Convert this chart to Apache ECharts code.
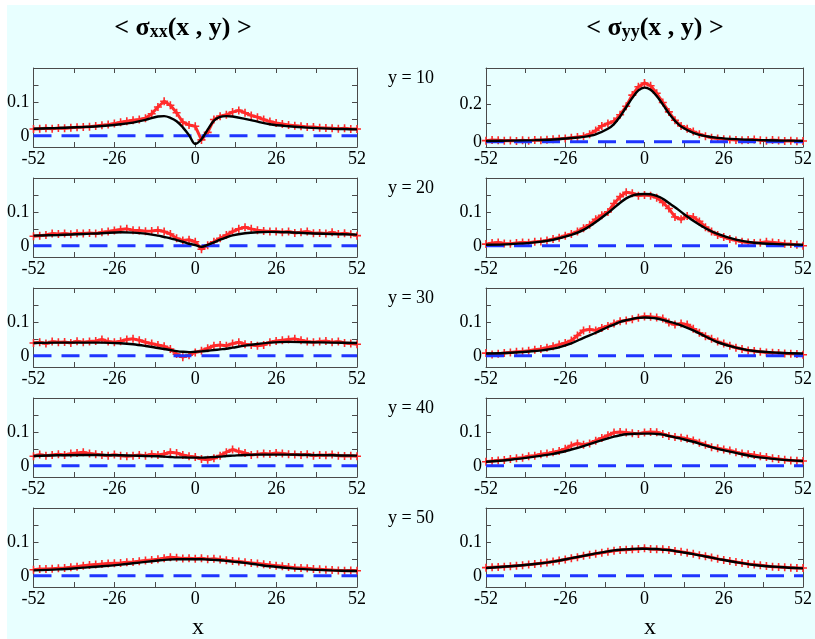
<!DOCTYPE html>
<html>
<head>
<meta charset="utf-8">
<script src="https://cdn.jsdelivr.net/npm/echarts@6/dist/echarts.min.js"></script>
<style>
html,body{margin:0;padding:0;background:#ffffff;}
#chart{width:815px;height:639px;}
</style>
</head>
<body>
<div id="chart"></div>
<script>
// ---------- data ----------
const xRed = [-52,-50,-48,-46,-44,-42,-40,-38,-36,-34,-32,-30,-28,-26,-24,-22,-20,-18,-16,-14,-12,-10,-8,-6,-4,-2,0,
  2,4,6,8,10,12,14,16,18,20,22,24,26,28,30,32,34,36,38,40,42,44,46,48,50,52];
const xFit = [-52,-44,-36,-30,-24,-20,-16,-12,-10,-8,-6,-4,-2,0,2,4,6,8,10,12,16,20,24,30,36,44,52];

const xTicks = [-52,-39,-26,-13,0,13,26,39,52];
const xLabels = [-52,-26,0,26,52];
const rowLabels = ['y = 10','y = 20','y = 30','y = 40','y = 50'];

// sigma_xx
const sxx10Red = [0.020,0.021,0.022,0.021,0.023,0.022,0.024,0.025,0.026,0.027,0.029,0.031,0.033,0.036,0.040,0.043,0.046,0.048,0.052,0.065,0.085,0.102,0.090,0.068,0.040,0.032,0.028,
  -0.012,0.010,0.048,0.058,0.062,0.070,0.075,0.068,0.060,0.055,0.048,0.042,0.038,0.035,0.032,0.030,0.028,0.026,0.026,0.024,0.023,0.022,0.021,0.022,0.020,0.020];
const sxx10Fit = [0.021,0.023,0.026,0.029,0.034,0.039,0.047,0.057,0.058,0.053,0.043,0.025,0.002,-0.024,-0.010,0.018,0.045,0.056,0.058,0.057,0.050,0.042,0.034,0.028,0.024,0.021,0.019];

const sxx20Red = [0.028,0.030,0.032,0.036,0.035,0.036,0.034,0.037,0.036,0.038,0.036,0.040,0.042,0.045,0.048,0.050,0.046,0.045,0.043,0.044,0.046,0.042,0.035,0.022,0.016,0.018,0.012,
  -0.010,0.002,0.012,0.022,0.032,0.042,0.050,0.055,0.050,0.046,0.044,0.042,0.042,0.040,0.042,0.038,0.040,0.042,0.037,0.038,0.036,0.040,0.035,0.037,0.034,0.030];
const sxx20Fit = [0.030,0.032,0.035,0.037,0.040,0.039,0.036,0.030,0.026,0.022,0.017,0.012,0.006,0.002,-0.003,0.003,0.010,0.018,0.025,0.031,0.037,0.040,0.041,0.040,0.037,0.035,0.033];

const sxx30Red = [0.038,0.040,0.036,0.042,0.040,0.041,0.038,0.043,0.040,0.042,0.044,0.048,0.042,0.040,0.043,0.048,0.050,0.046,0.040,0.036,0.032,0.028,0.020,0.005,-0.004,0.002,0.010,
  0.015,0.022,0.030,0.032,0.030,0.036,0.040,0.034,0.032,0.030,0.032,0.040,0.044,0.046,0.048,0.050,0.046,0.042,0.040,0.042,0.044,0.040,0.042,0.038,0.036,0.034];
const sxx30Fit = [0.038,0.039,0.039,0.039,0.037,0.034,0.029,0.023,0.020,0.017,0.014,0.012,0.011,0.012,0.013,0.015,0.017,0.019,0.021,0.024,0.030,0.035,0.039,0.041,0.040,0.039,0.038];

const sxx40Red = [0.028,0.033,0.030,0.032,0.034,0.032,0.036,0.038,0.040,0.036,0.034,0.032,0.030,0.033,0.030,0.028,0.030,0.032,0.030,0.034,0.032,0.035,0.040,0.038,0.032,0.028,0.026,
  0.020,0.018,0.022,0.030,0.040,0.048,0.042,0.038,0.032,0.034,0.036,0.035,0.038,0.036,0.034,0.033,0.032,0.034,0.030,0.032,0.031,0.033,0.030,0.029,0.030,0.028];
const sxx40Fit = [0.029,0.031,0.032,0.032,0.031,0.030,0.029,0.028,0.027,0.026,0.025,0.025,0.024,0.024,0.024,0.025,0.026,0.027,0.029,0.030,0.032,0.033,0.033,0.033,0.032,0.031,0.030];

const sxx50Red = [0.018,0.020,0.020,0.021,0.022,0.023,0.025,0.027,0.030,0.032,0.033,0.035,0.036,0.037,0.038,0.040,0.041,0.043,0.045,0.047,0.049,0.052,0.055,0.053,0.051,0.052,0.050,
  0.052,0.049,0.050,0.048,0.046,0.044,0.042,0.040,0.038,0.036,0.034,0.032,0.030,0.028,0.026,0.024,0.023,0.022,0.020,0.019,0.018,0.017,0.016,0.015,0.016,0.015];
const sxx50Fit = [0.016,0.019,0.024,0.028,0.033,0.037,0.041,0.045,0.047,0.048,0.049,0.049,0.049,0.049,0.049,0.048,0.047,0.046,0.044,0.042,0.038,0.033,0.028,0.023,0.019,0.016,0.014];

// sigma_yy
const syy10Red = [0.006,0.010,0.008,0.005,0.007,0.004,0.008,0.006,0.010,0.008,0.011,0.013,0.016,0.018,0.022,0.025,0.030,0.040,0.060,0.085,0.098,0.110,0.145,0.190,0.250,0.295,0.315,
  0.300,0.260,0.210,0.160,0.115,0.085,0.070,0.055,0.040,0.030,0.022,0.018,0.014,0.012,0.010,0.008,0.010,0.012,0.008,0.006,0.009,0.007,0.004,0.006,0.003,0.004];
const syy10Fit = [0.004,0.006,0.009,0.012,0.020,0.026,0.040,0.070,0.095,0.135,0.185,0.235,0.275,0.290,0.278,0.245,0.200,0.152,0.112,0.082,0.048,0.030,0.021,0.014,0.010,0.007,0.005];

const syy20Red = [0.005,0.008,0.010,0.007,0.006,0.008,0.010,0.009,0.012,0.013,0.016,0.020,0.024,0.030,0.035,0.042,0.052,0.062,0.078,0.090,0.100,0.125,0.145,0.158,0.155,0.148,0.150,
  0.148,0.142,0.128,0.110,0.085,0.078,0.088,0.085,0.072,0.055,0.042,0.032,0.026,0.020,0.016,0.012,0.010,0.008,0.009,0.012,0.010,0.008,0.006,0.005,0.003,0.000];
const syy20Fit = [0.003,0.005,0.010,0.018,0.032,0.047,0.070,0.097,0.112,0.127,0.140,0.148,0.152,0.153,0.152,0.147,0.139,0.126,0.114,0.100,0.074,0.052,0.035,0.018,0.009,0.005,0.003];

const syy30Red = [0.008,0.004,0.006,0.008,0.010,0.012,0.013,0.015,0.018,0.020,0.024,0.028,0.033,0.038,0.045,0.060,0.075,0.078,0.075,0.082,0.088,0.095,0.102,0.104,0.108,0.112,0.116,
  0.115,0.113,0.110,0.098,0.092,0.095,0.092,0.080,0.068,0.058,0.050,0.042,0.036,0.030,0.024,0.020,0.016,0.014,0.012,0.010,0.009,0.008,0.007,0.006,0.005,0.003];
const syy30Fit = [0.007,0.009,0.014,0.021,0.037,0.053,0.068,0.085,0.092,0.100,0.105,0.109,0.112,0.113,0.112,0.110,0.106,0.101,0.096,0.090,0.075,0.057,0.040,0.024,0.014,0.009,0.007];

const syy40Red = [0.012,0.014,0.016,0.017,0.020,0.022,0.024,0.028,0.030,0.034,0.036,0.040,0.044,0.050,0.060,0.066,0.062,0.066,0.074,0.082,0.090,0.098,0.100,0.098,0.096,0.094,0.098,
  0.100,0.099,0.094,0.088,0.085,0.083,0.080,0.075,0.068,0.062,0.055,0.052,0.048,0.045,0.040,0.036,0.034,0.032,0.028,0.026,0.022,0.020,0.018,0.016,0.015,0.014];
const syy40Fit = [0.012,0.018,0.027,0.035,0.048,0.058,0.070,0.081,0.086,0.090,0.093,0.094,0.095,0.095,0.095,0.094,0.092,0.088,0.084,0.080,0.071,0.060,0.050,0.038,0.027,0.019,0.014];

const syy50Red = [0.024,0.025,0.026,0.027,0.028,0.030,0.031,0.033,0.035,0.037,0.039,0.042,0.045,0.048,0.052,0.055,0.059,0.062,0.065,0.068,0.071,0.074,0.076,0.077,0.078,0.079,0.081,
  0.079,0.078,0.078,0.076,0.073,0.071,0.068,0.065,0.061,0.058,0.054,0.050,0.047,0.044,0.041,0.038,0.035,0.033,0.031,0.029,0.027,0.026,0.025,0.024,0.023,0.023];
const syy50Fit = [0.023,0.028,0.035,0.042,0.052,0.059,0.066,0.072,0.075,0.077,0.078,0.079,0.080,0.080,0.079,0.079,0.077,0.076,0.073,0.070,0.064,0.057,0.050,0.040,0.032,0.026,0.022];

const zeroX = [-52, 52];
const zeroY = [0, 0];

const yTicksSmall = [0, 0.05, 0.1, 0.15];
const yLabelsSmall = [0, 0.1];
const yTicksBig = [0, 0.1, 0.2, 0.3];
const yLabelsBig = [0, 0.2];

// ---------- layout ----------
const panels = [
  {col:0,row:0,red:sxx10Red,fit:sxx10Fit,big:false},
  {col:0,row:1,red:sxx20Red,fit:sxx20Fit,big:false},
  {col:0,row:2,red:sxx30Red,fit:sxx30Fit,big:false},
  {col:0,row:3,red:sxx40Red,fit:sxx40Fit,big:false},
  {col:0,row:4,red:sxx50Red,fit:sxx50Fit,big:false},
  {col:1,row:0,red:syy10Red,fit:syy10Fit,big:true},
  {col:1,row:1,red:syy20Red,fit:syy20Fit,big:false},
  {col:1,row:2,red:syy30Red,fit:syy30Fit,big:false},
  {col:1,row:3,red:syy40Red,fit:syy40Fit,big:false},
  {col:1,row:4,red:syy50Red,fit:syy50Fit,big:false}
];
const colLeft = [33.5, 486];
const panelW = 323.5;
const panelH = 79;
const rowTop0 = 68, rowStep = 110;

const FONT = '"Liberation Serif", "Times New Roman", serif';
const frameColor = '#4a4a4a';
const plusPath = 'path://M4,0H6V4H10V6H6V10H4V6H0V4H4Z';

const grids = [], xAxes = [], yAxes = [], series = [];
panels.forEach((p, i) => {
  grids.push({left: colLeft[p.col], top: rowTop0 + p.row*rowStep, width: panelW, height: panelH, containLabel: false});
  const axLine = {show: true, onZero: false, lineStyle: {color: frameColor, width: 1}};
  const tick = (vals) => ({show: true, inside: true, length: 5, lineStyle: {color: frameColor, width: 1}, customValues: vals});
  xAxes.push({gridIndex: i, type: 'value', position: 'bottom', min: -52, max: 52,
    axisLine: axLine, axisTick: tick(xTicks), splitLine: {show: false},
    axisLabel: {show: true, customValues: xLabels, margin: 3, fontFamily: FONT, fontSize: 18, color: '#000'}});
  xAxes.push({gridIndex: i, type: 'value', position: 'top', min: -52, max: 52,
    axisLine: axLine, axisTick: tick(xTicks), splitLine: {show: false}, axisLabel: {show: false}});
  const ymin = p.big ? -0.028 : -0.033;
  const ymax = p.big ? 0.395 : 0.2;
  const yt = p.big ? yTicksBig : yTicksSmall;
  const yl = p.big ? yLabelsBig : yLabelsSmall;
  yAxes.push({gridIndex: i, type: 'value', position: 'left', min: ymin, max: ymax,
    axisLine: axLine, axisTick: tick(yt), splitLine: {show: false},
    axisLabel: {show: true, customValues: yl, margin: 4, fontFamily: FONT, fontSize: 18, color: '#000'}});
  yAxes.push({gridIndex: i, type: 'value', position: 'right', min: ymin, max: ymax,
    axisLine: axLine, axisTick: tick(yt), splitLine: {show: false}, axisLabel: {show: false}});

  series.push({type: 'line', xAxisIndex: 2*i, yAxisIndex: 2*i, z: 2,
    data: xRed.map((x, k) => [x, p.red[k]]),
    symbol: plusPath, symbolSize: 8, showSymbol: true,
    itemStyle: {color: '#ff2b2b'}, lineStyle: {color: '#ff2b2b', width: 3}, silent: true});
  series.push({type: 'line', xAxisIndex: 2*i, yAxisIndex: 2*i, z: 3,
    data: zeroX.map((x, k) => [x, zeroY[k]]), symbol: 'none',
    lineStyle: {color: '#1f35ff', width: 3, type: [18, 10]}, silent: true});
  series.push({type: 'line', xAxisIndex: 2*i, yAxisIndex: 2*i, z: 4,
    data: xFit.map((x, k) => [x, p.fit[k]]), symbol: 'none', smooth: 0.35,
    lineStyle: {color: '#000000', width: 2.4}, silent: true});
});

const graphics = [
  {type: 'rect', left: 0, top: 0, shape: {width: 815, height: 5}, style: {fill: '#ffffff'}, silent: true},
  {type: 'rect', left: 0, top: 0, shape: {width: 7, height: 639}, style: {fill: '#ffffff'}, silent: true}
];
const titleRich = {
  a: {fontFamily: FONT, fontSize: 26, fontWeight: 'bold', lineHeight: 26, color: '#000'},
  s: {fontFamily: FONT, fontSize: 18, fontWeight: 'bold', lineHeight: 6, verticalAlign: 'bottom', color: '#000'}
};
graphics.push({type: 'text', x: 183, y: 28, silent: true,
  style: {text: '{a|< σ}{s|xx}{a|(x , y) >}', rich: titleRich, align: 'center', verticalAlign: 'middle'}});
graphics.push({type: 'text', x: 655, y: 28, silent: true,
  style: {text: '{a|< σ}{s|yy}{a|(x , y) >}', rich: titleRich, align: 'center', verticalAlign: 'middle'}});
rowLabels.forEach((t, r) => {
  graphics.push({type: 'text', x: 411, y: 78 + r*rowStep, silent: true,
    style: {text: t, fontFamily: FONT, fontSize: 18, fill: '#000', align: 'center', verticalAlign: 'middle'}});
});
graphics.push({type: 'text', x: 198, y: 628, silent: true,
  style: {text: 'x', fontFamily: FONT, fontSize: 24, fill: '#000', align: 'center', verticalAlign: 'middle'}});
graphics.push({type: 'text', x: 650, y: 628, silent: true,
  style: {text: 'x', fontFamily: FONT, fontSize: 24, fill: '#000', align: 'center', verticalAlign: 'middle'}});

const chart = echarts.init(document.getElementById('chart'), null, {renderer: 'canvas'});
chart.setOption({
  backgroundColor: '#e8ffff',
  animation: false,
  grid: grids,
  xAxis: xAxes,
  yAxis: yAxes,
  series: series,
  graphic: graphics
});
</script>
</body>
</html>
